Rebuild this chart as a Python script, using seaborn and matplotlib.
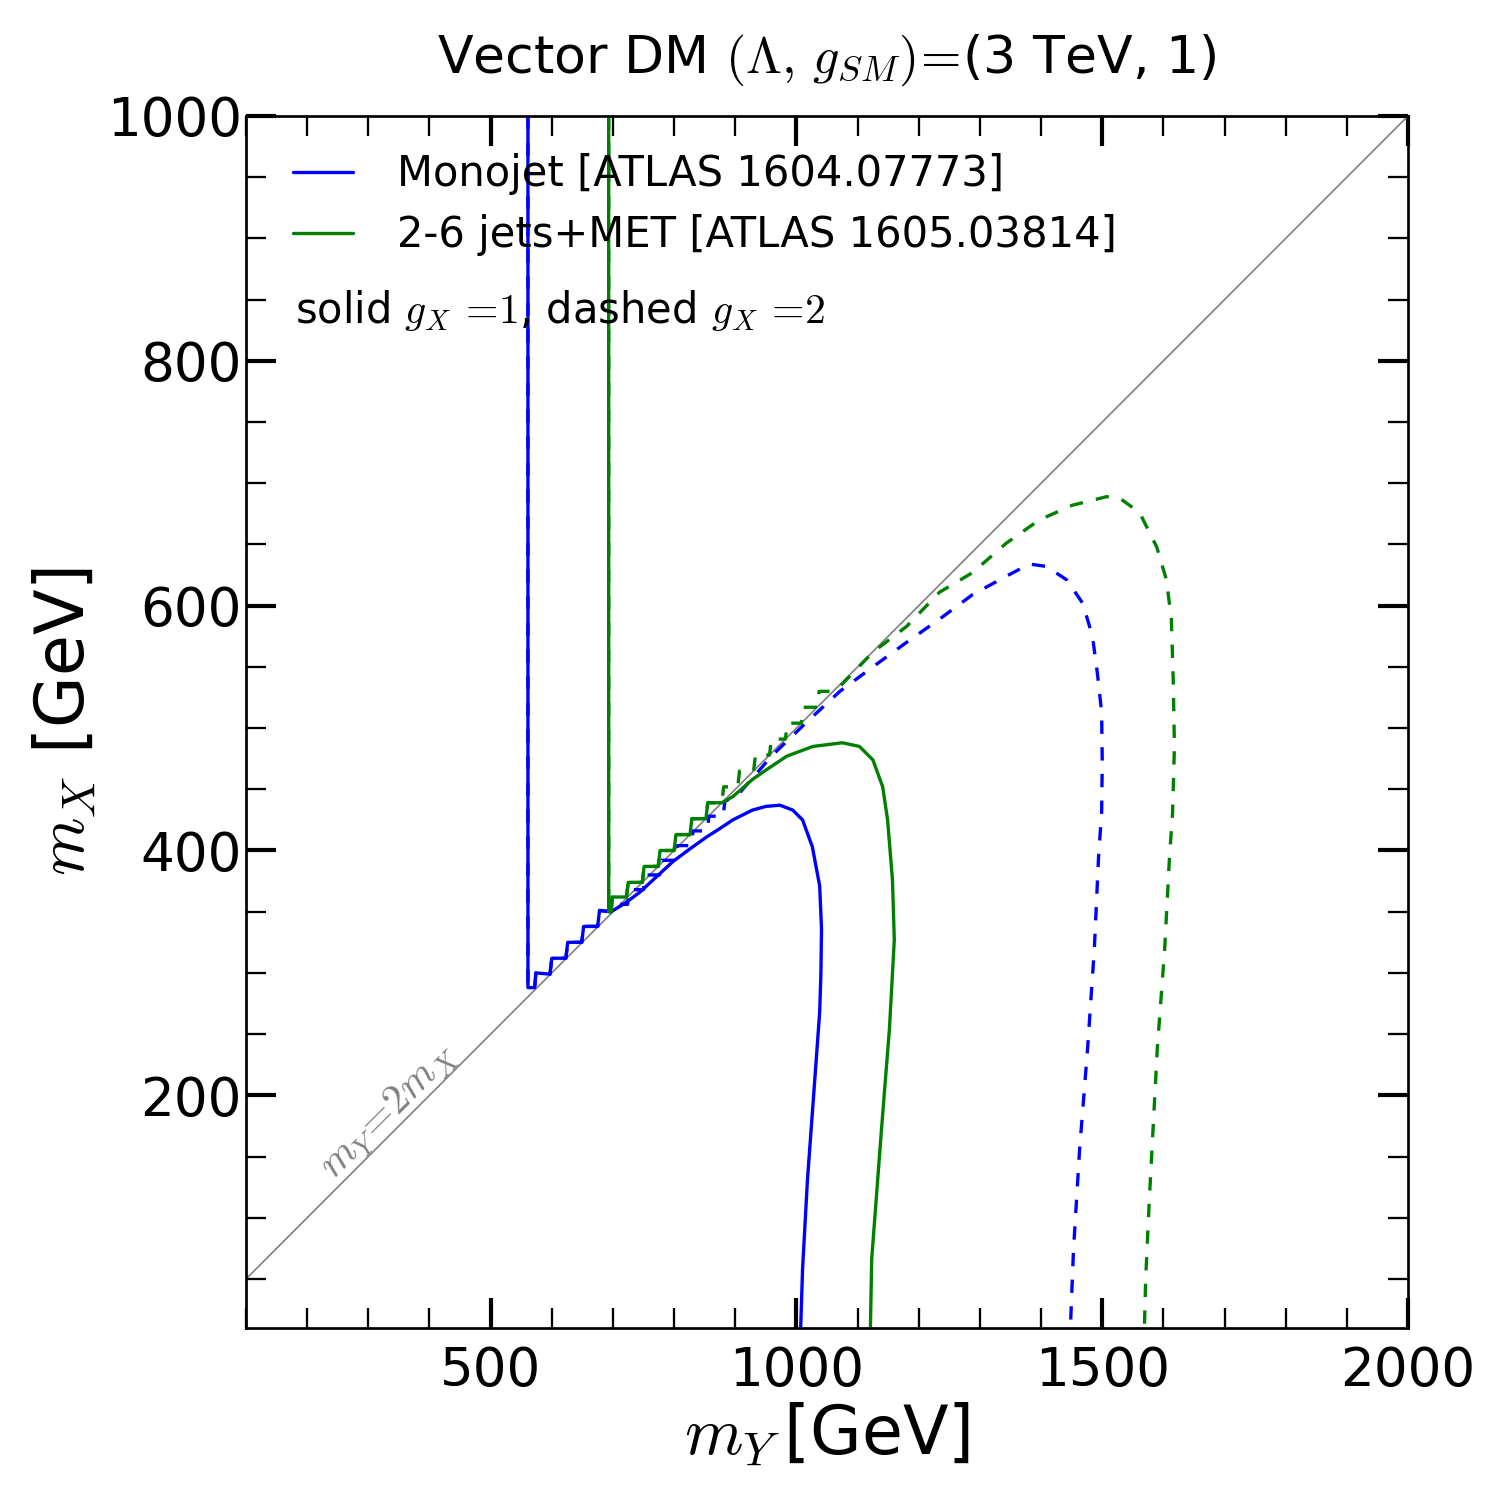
import matplotlib
matplotlib.use('Agg')
import matplotlib.pyplot as plt
import seaborn as sns
from matplotlib.ticker import MultipleLocator
from matplotlib.lines import Line2D

# ---- data (GeV) ----
diag_x = [100, 2000]
diag_y = [50, 1000]

# Monojet, g_X = 1 (solid blue)
mono1_x = [561, 561, 572, 574, 597, 600, 623, 626, 649, 652, 675, 678, 697,
           720, 744, 770, 798, 825, 853, 875, 896, 928, 950, 973, 994, 1010,
           1026, 1038, 1041, 1040, 1038, 1030, 1018, 1010, 1007]
mono1_y = [1000, 288, 288, 300, 299, 312, 312, 325, 325, 338, 338, 351, 350,
           357, 366, 378, 391, 401, 411, 418, 425, 433, 436, 437, 433, 425,
           403, 371, 336, 300, 268, 213, 131, 58, 11]

# Monojet, g_X = 2 (dashed blue)
mono2_x = [561, 561, 572, 574, 597, 600, 623, 626, 649, 652, 675, 678, 697,
           700, 724, 727, 750, 753, 776, 779, 802, 805, 828, 831, 854, 857, 880,
           883, 907, 961, 1017, 1071, 1125, 1180, 1234, 1288, 1343, 1381, 1409,
           1442, 1468, 1484, 1492, 1499, 1500, 1499, 1494, 1487, 1476, 1463,
           1453, 1448]
mono2_y = [1000, 288, 288, 300, 299, 312, 312, 325, 325, 338, 338, 351, 350,
           356, 356, 368, 368, 380, 380, 392, 392, 404, 404, 416, 416, 428, 428,
           440, 447, 478, 505, 530, 550, 570, 589, 609, 624, 634, 632,
           621, 602, 575, 545, 513, 472, 431, 395, 319, 238, 156,
           74, 11]

# 2-6 jets + MET, g_X = 1 (solid green)
jets1_x = [693, 693, 697, 699, 722, 725, 748, 751, 774, 777, 800, 803, 826,
           829, 852, 855, 878, 896, 928, 951, 984, 1027, 1075, 1103, 1125, 1141,
           1149, 1157, 1160, 1152, 1139, 1128, 1123, 1121]
jets1_y = [1000, 350, 350, 362, 362, 374, 374, 387, 387, 400, 400, 413, 413,
           426, 426, 439, 439, 444, 458, 466, 477, 485, 488, 485, 474, 452,
           425, 376, 327, 254, 172, 99, 66, 11]

# 2-6 jets + MET, g_X = 2 (dashed green)
jets2_x = [693, 693, 697, 699, 722, 725, 748, 751, 774, 777, 800, 803, 826,
           829, 852, 855, 878, 881, 904, 907, 930, 933, 956, 959, 982, 985,
           1008, 1011, 1034, 1037, 1060, 1071, 1125, 1180, 1234, 1288, 1343,
           1397, 1451, 1507, 1528, 1561, 1589, 1605, 1613, 1616, 1618, 1615,
           1610, 1602, 1590, 1577, 1571, 1569]
jets2_y = [1000, 350, 350, 362, 362, 374, 374, 387, 387, 400, 400, 413, 413,
           426, 426, 439, 439, 452, 452, 465, 465, 478, 478, 491, 491, 504,
           504, 517, 517, 530, 530, 534, 562, 583, 611, 627, 651,
           670, 682, 689, 688, 676, 648, 621, 589, 540, 485, 431,
           395, 319, 238, 115, 50, 11]

legend_labels = ['Monojet [ATLAS 1604.07773]', '2-6 jets+MET [ATLAS 1605.03814]']

BLUE = '#0000ff'
GREEN = '#008000'

# ---- style ----
sns.set_theme(style='white')
plt.rcParams.update({
    'font.family': ['DejaVu Sans'],
    'mathtext.fontset': 'cm',
    'axes.edgecolor': 'black',
    'axes.linewidth': 1.3,
    'lines.scale_dashes': True,
    'text.color': 'black',
    'axes.labelcolor': 'black',
    'xtick.color': 'black',
    'ytick.color': 'black',
})

fig = plt.figure(figsize=(10, 10), dpi=150)
ax = fig.add_axes([0.164, 0.1147, 0.7747, 0.808])

sns.lineplot(x=diag_x, y=diag_y, color='gray', lw=0.8, ax=ax)
sns.lineplot(x=mono1_x, y=mono1_y, sort=False, estimator=None, color=BLUE, lw=1.6, ax=ax)
sns.lineplot(x=mono2_x, y=mono2_y, sort=False, estimator=None, color=BLUE, lw=1.6,
             linestyle=(0, (4, 4)), ax=ax)
sns.lineplot(x=jets1_x, y=jets1_y, sort=False, estimator=None, color=GREEN, lw=1.6, ax=ax)
sns.lineplot(x=jets2_x, y=jets2_y, sort=False, estimator=None, color=GREEN, lw=1.6,
             linestyle=(0, (4, 4)), ax=ax)

ax.set_xlim(100, 2000)
ax.set_ylim(10, 1000)
ax.xaxis.set_major_locator(MultipleLocator(500))
ax.xaxis.set_minor_locator(MultipleLocator(100))
ax.yaxis.set_major_locator(MultipleLocator(200))
ax.yaxis.set_minor_locator(MultipleLocator(50))
ax.tick_params(which='both', direction='in', top=True, right=True,
               bottom=True, left=True, colors='black')
ax.tick_params(which='major', length=14.4, width=2.0, labelsize=25.5)
ax.tick_params(which='minor', length=9.6, width=1.1)
ax.tick_params(axis='x', which='major', pad=8)
ax.tick_params(axis='y', which='major', pad=2)
for s in ax.spines.values():
    s.set_visible(True)
    s.set_color('black')
    s.set_linewidth(1.3)

ax.set_title(r'Vector DM $(\Lambda,\, g_{SM})\!=\!$(3 TeV, 1)', fontsize=25, pad=21,
             color='black')
ax.set_xlabel(r'$m_Y\,$[GeV]', fontsize=32, labelpad=2)
ax.set_ylabel(r'$m_X$ [GeV]', fontsize=32, labelpad=4)

handles = [Line2D([], [], color=BLUE, lw=1.6), Line2D([], [], color=GREEN, lw=1.6)]
leg = ax.legend(handles=handles, labels=legend_labels, loc='upper left',
                bbox_to_anchor=(0.008, 1.0), frameon=False, fontsize=20,
                handlelength=1.45, handletextpad=1.05, labelspacing=0.45)
for t in leg.get_texts():
    t.set_color('black')

ax.text(0.042, 0.829, r'solid $g_X\,=\!1$, dashed $g_X\,=\!2$', transform=ax.transAxes,
        fontsize=20, ha='left', va='baseline', color='black')
ax.text(332, 188, r'$m_Y\!=\!2m_X$', rotation=45, color='gray', fontsize=20,
        ha='center', va='center', rotation_mode='anchor')

fig.savefig('out.png', dpi=150)
